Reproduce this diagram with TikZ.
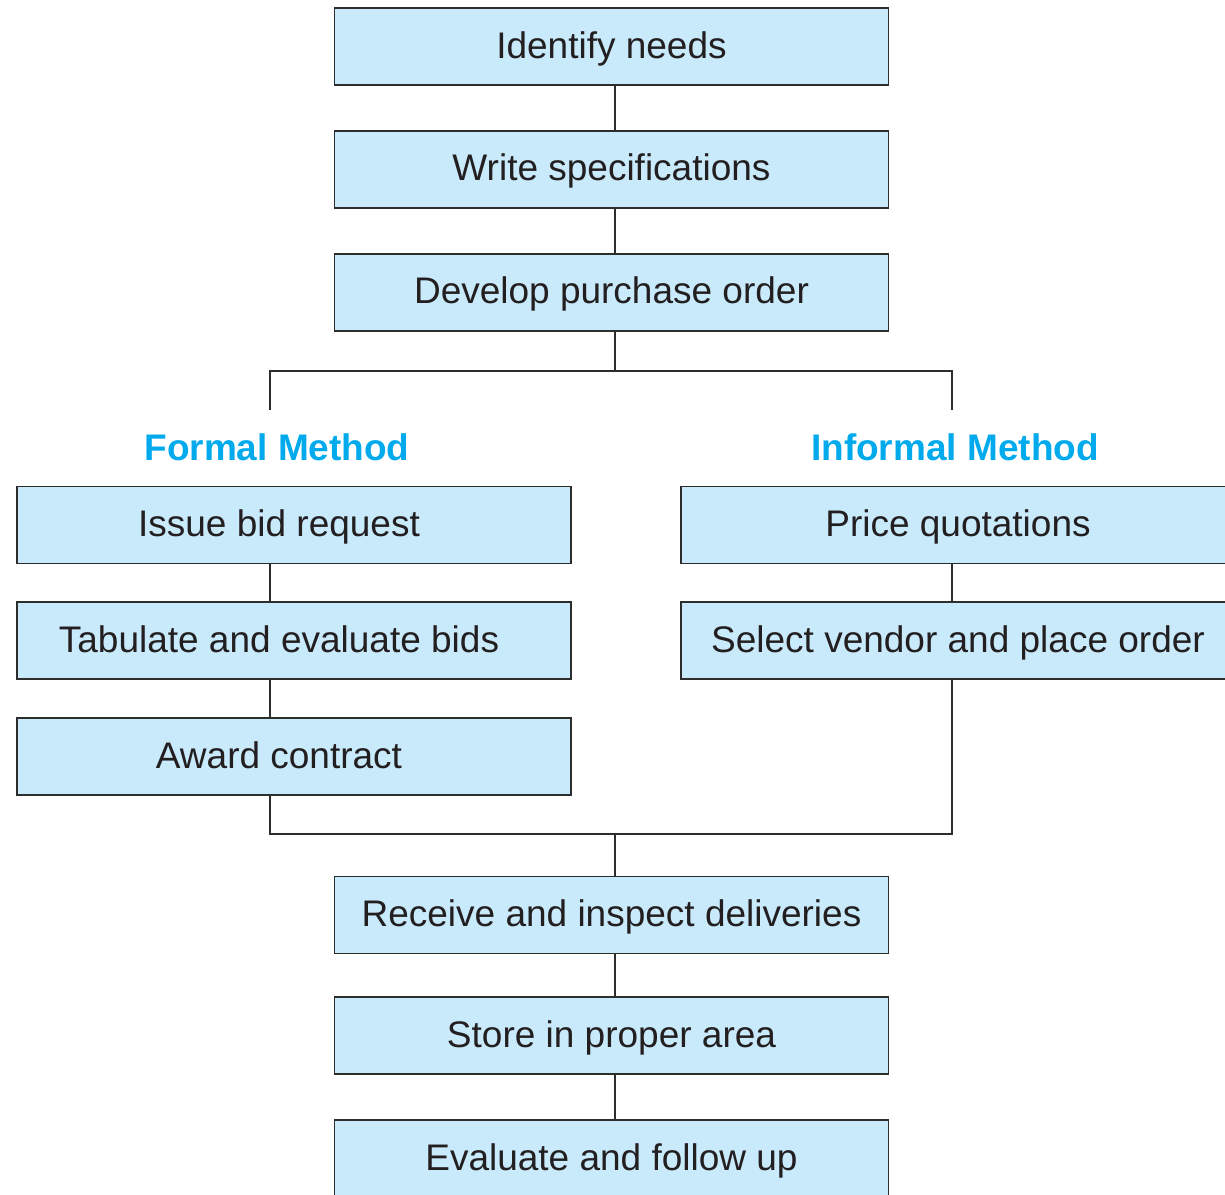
\documentclass[tikz,border=0pt]{standalone}
\usepackage{fontspec}
\setmainfont{Liberation Sans}
\usepackage{tikz}
\usetikzlibrary{positioning}
\definecolor{boxblue}{RGB}{200,234,251}
\definecolor{methodblue}{RGB}{0,170,236}
\definecolor{edgegray}{RGB}{45,45,45}
\definecolor{textgray}{RGB}{35,31,32}

\begin{document}
\begin{tikzpicture}[
  x=1pt, y=-1pt,
  node distance=44pt,
  stage/.style={rectangle, draw=edgegray, fill=boxblue, line width=1.8pt,
                minimum height=77pt, minimum width=554pt, inner sep=0pt,
                text height=23pt, text depth=0pt, text=textgray,
                font=\fontsize{37}{44}\selectfont},
  formalstage/.style={stage, execute at begin node={\hspace*{-30pt}}},
  method/.style={inner sep=0pt, text height=27pt, text depth=0pt, text=methodblue,
                 font=\fontsize{37}{44}\selectfont\bfseries},
  link/.style={draw=edgegray, line width=1.8pt}
]
\useasboundingbox (0,0) rectangle (1225,1194);

% main trunk
\node[stage] (needs) at (611.5,46.5) {Identify needs};
\node[stage, below=of needs] (specs) {Write specifications};
\node[stage, below=of specs] (order) {Develop purchase order};

% the two methods
\node[method] (formal) at (277,447) {Formal Method};
\node[method] (informal) at (955,447) {Informal Method};

\node[formalstage] (bid) at (294,525) {Issue bid request};
\node[formalstage, below=37pt of bid] (tabulate) {Tabulate and evaluate bids};
\node[formalstage, below=37pt of tabulate] (award) {Award contract};

\node[stage] (quote) at (958,525) {Price quotations};
\node[stage, below=37pt of quote] (vendor) {Select vendor and place order};

% after the order is placed
\node[stage] (receive) at (611.5,915) {Receive and inspect deliveries};
\node[stage, below=42pt of receive] (store) {Store in proper area};
\node[stage, below=of store] (followup) {Evaluate and follow up};

\coordinate (mid) at (615,0);
\coordinate (lft) at (270,0);
\coordinate (rgt) at (952,0);
\coordinate (split) at (615,371);
\coordinate (join) at (615,834);
\coordinate (fend) at (270,410);
\coordinate (iend) at (952,410);

\draw[link] (needs.south -| mid) -- (specs.north -| mid);
\draw[link] (specs.south -| mid) -- (order.north -| mid);
\draw[link] (order.south -| mid) -- (split);
\draw[link] (fend) -- (fend |- split) -- (iend |- split) -- (iend);

\draw[link] (bid.south -| lft) -- (tabulate.north -| lft);
\draw[link] (tabulate.south -| lft) -- (award.north -| lft);
\draw[link] (quote.south -| rgt) -- (vendor.north -| rgt);

\draw[link] (award.south -| lft) -- (lft |- join) -- (rgt |- join) -- (vendor.south -| rgt);
\draw[link] (join) -- (receive.north -| mid);
\draw[link] (receive.south -| mid) -- (store.north -| mid);
\draw[link] (store.south -| mid) -- (followup.north -| mid);
\end{tikzpicture}
\end{document}
